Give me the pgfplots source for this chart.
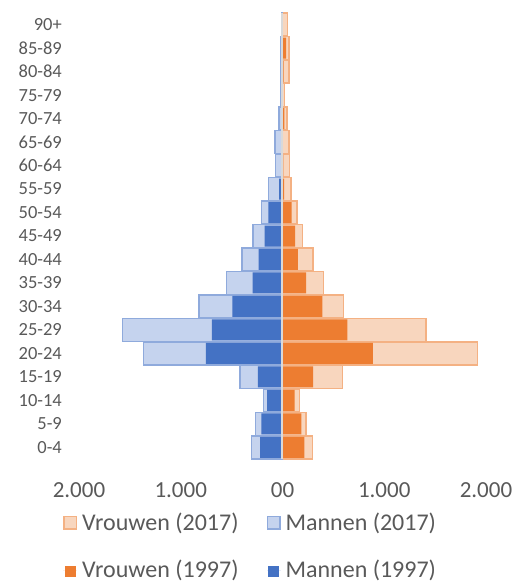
\documentclass[border=0pt]{standalone}
\usepackage{pgfplots}
\pgfplotsset{compat=1.18}
\usepackage{pgfplotstable}
\usepackage{fontspec}
\setmainfont{Carlito}

\definecolor{mdark}{HTML}{4472C4}
\definecolor{fdark}{HTML}{ED7D31}
\definecolor{mlight}{HTML}{C5D3EE}
\definecolor{mlightb}{HTML}{8FAADC}
\definecolor{flight}{HTML}{F8D6BE}
\definecolor{flightb}{HTML}{F4B183}
\definecolor{txtgray}{HTML}{595959}
\definecolor{axgray}{HTML}{D9D9D9}

% y: 0 = 0-4 ... 18 = 90+ ; men negative
\pgfplotstableread{
y    m17    f17   m97   f97
0   -306    296   -221  214
1   -266    231   -208  185
2   -188    165   -152  120
3   -418    591   -241  300
4   -1367   1918  -752  887
5   -1571   1410  -693  637
6   -821    601   -493  391
7   -551    401   -293  231
8   -398    300   -234  152
9   -290    198   -175  123
10  -207    142   -140  90
11  -138    86    -32   15
12  -68     67    -8    8
13  -75     62    -8    4
14  -36     42    -4    18
15  -22     22    -2    2
16  -15     62    -2    10
17  -15     62    -2    35
18  -12     50    -2    4
}\pyramid

\begin{document}
\begin{tikzpicture}
\begin{axis}[
    scale only axis,
    width=407pt, height=446pt,
    xbar, bar shift=0pt,
    xmin=-2000, xmax=2000,
    ymin=-0.5, ymax=18.5,
    axis line style={draw=none},
    major tick length=0pt,
    xtick={-2000,-1000,0,1000,2000},
    xticklabels={2.000,1.000,00,1.000,2.000},
    ytick={0,...,18},
    yticklabels={0-4,5-9,10-14,15-19,20-24,25-29,30-34,35-39,40-44,45-49,50-54,55-59,60-64,65-69,70-74,75-79,80-84,85-89,90+},
    xticklabel style={font=\fontsize{23}{28}\selectfont, text=txtgray, inner sep=0pt, anchor=north, yshift=-23pt},
    yticklabel style={font=\fontsize{18.5}{22}\selectfont, text=txtgray, inner sep=0pt, anchor=east, xshift=-17pt},
    extra x ticks={0},
    extra x tick labels={},
    extra x tick style={grid=major, major grid style={draw=axgray, line width=2pt}},
    axis on top,
    legend columns=2,
    legend cell align=left,
    legend style={
        at={(axis description cs:-0.0467,-0.1166)}, anchor=north west,
        draw=none, fill=none,
        font=\fontsize{24}{29}\selectfont, text=txtgray,
        nodes={inner sep=0pt},
        row sep=28pt,
        /tikz/every odd column/.append style={column sep=5pt},
        /tikz/every even column/.append style={column sep=28pt},
    },
]
\addplot[fill=flight, draw=flightb, line width=1.5pt, bar width=23pt,
    legend image code/.code={\draw[fill=flight, draw=flightb, line width=1.5pt] (0.75pt,-6.25pt) rectangle (13.25pt,6.25pt);}]
    table[x=f17, y=y] {\pyramid};
\addlegendentry{Vrouwen (2017)}
\addplot[fill=mlight, draw=mlightb, line width=1.5pt, bar width=23pt,
    legend image code/.code={\draw[fill=mlight, draw=mlightb, line width=1.5pt] (0.75pt,-6.25pt) rectangle (13.25pt,6.25pt);}]
    table[x=m17, y=y] {\pyramid};
\addlegendentry{Mannen (2017)}
\addplot[fill=fdark, draw=none, bar width=21pt,
    legend image code/.code={\path (0pt,0pt) rectangle (14pt,0pt); \fill[fdark] (1.5pt,-7pt) rectangle (12.5pt,4pt);}]
    table[x=f97, y=y] {\pyramid};
\addlegendentry{Vrouwen (1997)}
\addplot[fill=mdark, draw=none, bar width=21pt,
    legend image code/.code={\path (0pt,0pt) rectangle (14pt,0pt); \fill[mdark] (1.5pt,-7pt) rectangle (12.5pt,4pt);}]
    table[x=m97, y=y] {\pyramid};
\addlegendentry{Mannen (1997)}
\end{axis}
\pgfresetboundingbox
\path (-79pt,-125pt) rectangle (436pt,459pt);
\end{tikzpicture}
\end{document}
